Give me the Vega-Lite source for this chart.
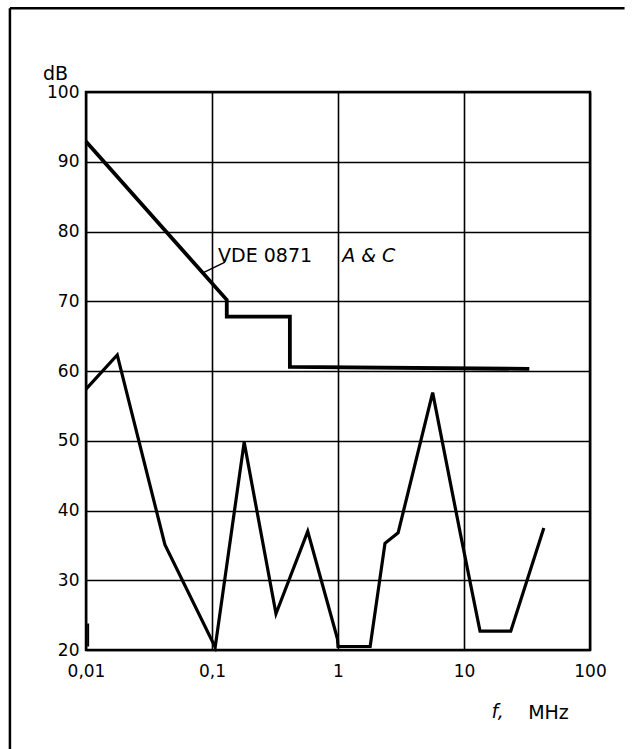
{
  "$schema": "https://vega.github.io/schema/vega-lite/v6.json",
  "width": 504,
  "height": 558,
  "autosize": {"type": "none"},
  "padding": {"left": 86, "top": 92, "right": 44, "bottom": 99},
  "background": "white",
  "config": {
    "view": {"stroke": "black", "strokeWidth": 2.5},
    "font": "DejaVu Sans",
    "axis": {"gridColor": "black", "gridOpacity": 1, "gridWidth": 1.6, "domain": false, "ticks": false,
             "labelFont": "DejaVu Sans", "labelFontSize": 17, "labelColor": "black", "labelFlush": false, "labelOverlap": false,
             "titleFont": "DejaVu Sans", "titleFontSize": 19, "titleColor": "black", "titleFontWeight": "normal"}
  },
  "datasets": {
    "limit": [
      {"i": 0, "f": 0.01, "dB": 92.9},
      {"i": 1, "f": 0.131, "dB": 70.2},
      {"i": 2, "f": 0.131, "dB": 67.8},
      {"i": 3, "f": 0.415, "dB": 67.8},
      {"i": 4, "f": 0.415, "dB": 60.6},
      {"i": 5, "f": 33, "dB": 60.3}
    ],
    "emission": [
      {"i": 0, "f": 0.01, "dB": 57.4},
      {"i": 1, "f": 0.0177, "dB": 62.3},
      {"i": 2, "f": 0.0423, "dB": 35.1},
      {"i": 3, "f": 0.106, "dB": 20.4},
      {"i": 4, "f": 0.18, "dB": 49.8},
      {"i": 5, "f": 0.322, "dB": 25.2},
      {"i": 6, "f": 0.575, "dB": 37.0},
      {"i": 7, "f": 0.99, "dB": 21.6},
      {"i": 8, "f": 1.0, "dB": 20.5},
      {"i": 9, "f": 1.8, "dB": 20.5},
      {"i": 10, "f": 2.36, "dB": 35.3},
      {"i": 11, "f": 3.0, "dB": 36.8},
      {"i": 12, "f": 5.64, "dB": 56.9},
      {"i": 13, "f": 9.4, "dB": 36.5},
      {"i": 14, "f": 13.4, "dB": 22.7},
      {"i": 15, "f": 23.5, "dB": 22.7},
      {"i": 16, "f": 43, "dB": 37.5}
    ],
    "leader": [
      {"i": 0, "f": 0.127, "dB": 75.6},
      {"i": 1, "f": 0.083, "dB": 74.0}
    ],
    "labelsNormal": [
      {"f": 0.1117, "dB": 76.5, "text": "VDE  0871"}
    ],
    "labelsItalic": [
      {"f": 1.08, "dB": 76.5, "text": "A & C"},
      {"f": 16.5, "dB": 11.1, "text": "f,"}
    ],
    "tick": [{"f": 0.0104, "dB": 20.5, "dB2": 23.8}]
  },
  "layer": [
    {
      "data": {"name": "limit"},
      "mark": {"type": "line", "color": "black", "strokeWidth": 3.8, "strokeJoin": "miter", "clip": false},
      "encoding": {
        "x": {"field": "f", "type": "quantitative",
              "scale": {"type": "log", "domain": [0.01, 100], "nice": false},
              "axis": {"values": [0.01, 0.1, 1, 10, 100], "grid": true, "labelPadding": 13,
                       "labelExpr": "datum.value == 0.01 ? '0,01' : datum.value == 0.1 ? '0,1' : datum.label",
                       "title": "MHz", "titleX": 462, "titleY": 62, "titleBaseline": "middle", "titleAlign": "center"}},
        "y": {"field": "dB", "type": "quantitative",
              "scale": {"domain": [20, 100], "nice": false, "zero": false},
              "axis": {"values": [20, 30, 40, 50, 60, 70, 80, 90, 100], "grid": true, "labelPadding": 7,
                       "title": "dB", "titleAngle": 0, "titleX": -31, "titleY": -19, "titleAlign": "center", "titleBaseline": "middle"}},
        "order": {"field": "i"}
      }
    },
    {
      "data": {"name": "emission"},
      "mark": {"type": "line", "color": "black", "strokeWidth": 3.2, "strokeJoin": "miter", "clip": false},
      "encoding": {
        "x": {"field": "f", "type": "quantitative"},
        "y": {"field": "dB", "type": "quantitative"},
        "order": {"field": "i"}
      }
    },
    {
      "data": {"name": "leader"},
      "mark": {"type": "line", "color": "black", "strokeWidth": 1.5},
      "encoding": {
        "x": {"field": "f", "type": "quantitative"},
        "y": {"field": "dB", "type": "quantitative"},
        "order": {"field": "i"}
      }
    },
    {
      "data": {"name": "tick"},
      "mark": {"type": "rule", "color": "black", "strokeWidth": 2},
      "encoding": {
        "x": {"field": "f", "type": "quantitative"},
        "y": {"field": "dB", "type": "quantitative"},
        "y2": {"field": "dB2"}
      }
    },
    {
      "data": {"name": "labelsNormal"},
      "mark": {"type": "text", "align": "left", "baseline": "middle", "fontSize": 19, "color": "black", "clip": false},
      "encoding": {
        "x": {"field": "f", "type": "quantitative"},
        "y": {"field": "dB", "type": "quantitative"},
        "text": {"field": "text"}
      }
    },
    {
      "data": {"name": "labelsItalic"},
      "mark": {"type": "text", "align": "left", "baseline": "middle", "fontSize": 19, "fontStyle": "italic", "color": "black", "clip": false},
      "encoding": {
        "x": {"field": "f", "type": "quantitative"},
        "y": {"field": "dB", "type": "quantitative"},
        "text": {"field": "text"}
      }
    },
    {
      "data": {"values": [{}]},
      "mark": {"type": "rule", "color": "black", "strokeWidth": 2.5, "clip": false},
      "encoding": {
        "x": {"datum": 0.00249, "type": "quantitative"},
        "y": {"datum": 112, "type": "quantitative"},
        "y2": {"datum": 0}
      }
    },
    {
      "data": {"values": [{}]},
      "mark": {"type": "rule", "color": "black", "strokeWidth": 2.5, "clip": false},
      "encoding": {
        "x": {"datum": 0.00249, "type": "quantitative"},
        "x2": {"datum": 188},
        "y": {"datum": 112, "type": "quantitative"}
      }
    }
  ]
}
